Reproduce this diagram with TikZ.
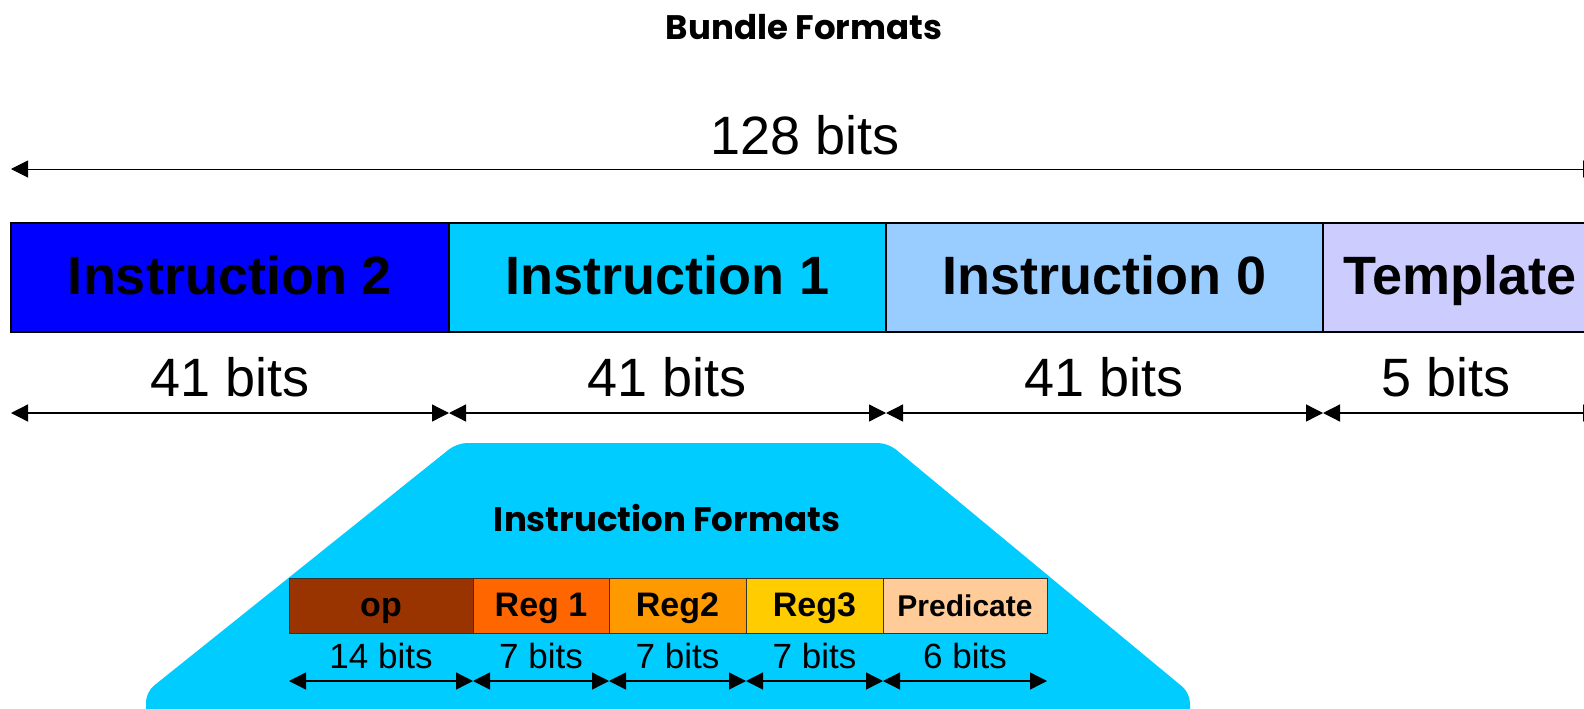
\documentclass[tikz,border=0pt]{standalone}
\usepackage{fontspec}
\setmainfont{Liberation Sans}
\newfontfamily\comicfont{Poppins}
\usetikzlibrary{positioning,arrows.meta}
\definecolor{instrtwo}{HTML}{0000FF}
\definecolor{instrone}{HTML}{00CCFF}
\definecolor{instrzero}{HTML}{99CCFF}
\definecolor{templ}{HTML}{CCCCFF}
\definecolor{opcol}{HTML}{993300}
\definecolor{regone}{HTML}{FF6600}
\definecolor{regtwo}{HTML}{FF9900}
\definecolor{regthree}{HTML}{FFCC00}
\definecolor{predcol}{HTML}{FFCC99}
\begin{document}
\begin{tikzpicture}[x=1pt, y=-1pt,
	field/.style={draw, line width=1.2pt, inner sep=0pt, outer sep=0pt, minimum height=109pt,
		text height=39pt, text depth=6pt, font=\fontsize{54pt}{60pt}\selectfont\bfseries},
	subfield/.style={draw=black!80, line width=1pt, inner sep=0pt, outer sep=0pt, minimum height=55pt,
		text height=24.5pt, text depth=3.5pt, font=\fontsize{34pt}{40pt}\selectfont\bfseries},
	dim/.style={line width=1.3pt, {Triangle[length=17pt,width=17pt]}-{Triangle[length=17pt,width=17pt]}},
	bits/.style={midway, anchor=base, yshift=17pt, font=\fontsize{54pt}{60pt}\selectfont},
	smallbits/.style={midway, anchor=base, yshift=13pt, font=\fontsize{35pt}{40pt}\selectfont},
	heading/.style={anchor=base, font=\fontsize{34pt}{40pt}\selectfont\comicfont\bfseries}]
	\useasboundingbox (0,0) rectangle (1584,709);
	\clip (0,0) rectangle (1584,709);
	% title
	\node [heading] (bundle) at (804, 40) {Bundle Formats};
	% bundle fields
	\node [field, fill=instrtwo, minimum width=438pt] (instr2) at (230, 277.5) {Instruction 2};
	\node [field, fill=instrone, minimum width=437pt, right=0pt of instr2] (instr1) {Instruction 1};
	\node [field, fill=instrzero, minimum width=437pt, right=0pt of instr1] (instr0) {Instruction 0};
	\node [field, fill=templ, minimum width=274pt, right=0pt of instr0] (templ) {Template};
	% 128 bits across the top
	\coordinate (w0) at ([yshift=54pt]instr2.north west);
	\coordinate (w1) at ([xshift=3pt, yshift=54pt]templ.north east);
	\draw [dim, line width=1pt] (w0) -- node [bits, yshift=-2pt] {128 bits} (w1);
	% widths of the fields
	\coordinate (b0) at ([yshift=-81pt]instr2.south west);
	\coordinate (b1) at ([yshift=-81pt]instr1.south west);
	\coordinate (b2) at ([yshift=-81pt]instr0.south west);
	\coordinate (b3) at ([yshift=-81pt]templ.south west);
	\coordinate (b4) at ([xshift=3pt, yshift=-81pt]templ.south east);
	\draw [dim] (b0) -- node [bits] {41 bits} (b1);
	\draw [dim] (b1) -- node [bits] {41 bits} (b2);
	\draw [dim] (b2) -- node [bits] {41 bits} (b3);
	\draw [dim] (b3) -- node [bits, xshift=-15pt] {5 bits} (b4);
	% blow-up of one instruction
	\fill [instrone, rounded corners=10pt] (146, 730) -- (146, 692) -- (457, 443) -- (888, 443)
		-- (1190, 693) -- (1190, 730) -- cycle;
	\node [heading] (iformats) at (667, 531) {Instruction Formats};
	\node [subfield, fill=opcol, minimum width=184pt] (op) at (381, 605.5) {op};
	\node [subfield, fill=regone, minimum width=136pt, right=0pt of op] (reg1) {Reg 1};
	\node [subfield, fill=regtwo, minimum width=137pt, right=0pt of reg1] (reg2) {Reg2};
	\node [subfield, fill=regthree, minimum width=137pt, right=0pt of reg2] (reg3) {Reg3};
	\node [subfield, fill=predcol, minimum width=164pt, right=0pt of reg3,
		font=\fontsize{30pt}{36pt}\selectfont\bfseries] (pred) {Predicate};
	% widths of the instruction fields
	\coordinate (s0) at ([yshift=-48pt]op.south west);
	\coordinate (s1) at ([yshift=-48pt]reg1.south west);
	\coordinate (s2) at ([yshift=-48pt]reg2.south west);
	\coordinate (s3) at ([yshift=-48pt]reg3.south west);
	\coordinate (s4) at ([yshift=-48pt]pred.south west);
	\coordinate (s5) at ([yshift=-48pt]pred.south east);
	\draw [dim] (s0) -- node [smallbits] {14 bits} (s1);
	\draw [dim] (s1) -- node [smallbits] {7 bits} (s2);
	\draw [dim] (s2) -- node [smallbits] {7 bits} (s3);
	\draw [dim] (s3) -- node [smallbits] {7 bits} (s4);
	\draw [dim] (s4) -- node [smallbits] {6 bits} (s5);
\end{tikzpicture}
\end{document}
